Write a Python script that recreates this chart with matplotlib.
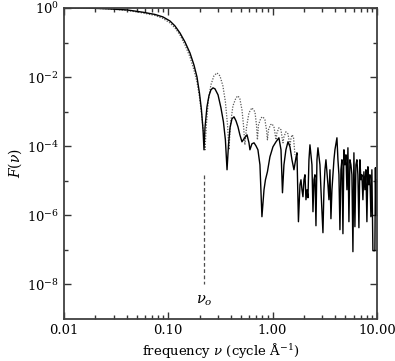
import numpy as np
import matplotlib
matplotlib.use("Agg")
import matplotlib.pyplot as plt
from matplotlib.ticker import NullFormatter

plt.rcParams['font.family'] = ['DejaVu Serif']
plt.rcParams['mathtext.fontset'] = 'dejavuserif'

# solid curve: frequency (cycle/A) and log10 F(nu)
nu_solid = [0.0100, 0.01423, 0.0190, 0.0276, 0.0402, 0.0571, 0.0745, 0.0889, 0.1037, 0.1159,
            0.1294, 0.1445, 0.1614, 0.1762, 0.1884, 0.199, 0.208, 0.2155, 0.2200, 0.2249,
            0.235, 0.2455, 0.2564, 0.2685, 0.2805, 0.300, 0.320, 0.338, 0.353, 0.366,
            0.378, 0.391, 0.408, 0.427, 0.446, 0.466, 0.486, 0.509, 0.532, 0.569,
            0.594, 0.607, 0.634, 0.664, 0.693, 0.724, 0.757, 0.791, 0.828, 0.855,
            0.893, 0.944, 1.009, 1.079, 1.151, 1.205, 1.245, 1.286, 1.343, 1.406,
            1.469, 1.535, 1.604, 1.676, 1.714, 1.771, 1.832, 1.873, 1.915, 1.957,
            2.001, 2.046, 2.091, 2.138, 2.186, 2.234, 2.284, 2.387, 2.441, 2.495,
            2.551, 2.608, 2.666, 2.725, 2.848, 2.912, 3.043, 3.111, 3.180, 3.251,
            3.398, 3.474, 3.551, 3.630, 3.711, 3.879, 3.965, 4.144, 4.237, 4.331,
            4.428, 4.527, 4.628, 4.731, 4.836, 4.944, 5.054, 5.167, 5.282, 5.400,
            5.520, 5.643, 5.769, 5.898, 6.029, 6.164, 6.301, 6.442, 6.585, 6.732,
            6.882, 7.036, 7.193, 7.353, 7.517, 7.685, 7.857, 8.032, 8.211, 8.394,
            8.581, 8.773, 8.968, 9.168, 9.582, 9.69, 9.795, 10.0]
logF_solid = [0, -0.003, -0.009, -0.029, -0.058, -0.124, -0.188, -0.260, -0.376, -0.520,
              -0.723, -0.983, -1.301, -1.647, -1.994, -2.457, -2.948, -3.526, -4.104, -3.468,
              -2.861, -2.543, -2.370, -2.312, -2.341, -2.514, -2.890, -3.295, -3.815, -4.682,
              -3.960, -3.468, -3.208, -3.150, -3.266, -3.439, -3.671, -3.873, -3.786, -3.671,
              -3.902, -4.104, -3.931, -3.902, -3.988, -4.104, -4.538, -6.040, -5.260, -4.971,
              -4.740, -4.306, -4.017, -3.873, -3.757, -4.104, -5.347, -4.538, -4.104, -3.873,
              -4.017, -4.393, -4.682, -4.335, -4.191, -6.185, -5.116, -4.971, -5.260, -5.462,
              -4.971, -4.827, -5.549, -5.260, -5.491, -4.393, -3.960, -4.538, -5.896, -4.971,
              -4.827, -6.301, -4.393, -4.046, -4.538, -5.260, -6.503, -5.260, -4.682, -4.393,
              -5.116, -5.549, -4.682, -6.098, -5.260, -4.393, -4.104, -3.757, -4.393, -4.827,
              -6.416, -4.682, -4.393, -6.532, -4.104, -4.538, -4.249, -5.260, -4.046, -6.185,
              -4.393, -4.538, -4.827, -7.052, -4.191, -6.329, -4.538, -4.393, -4.827, -6.358,
              -4.393, -4.971, -4.827, -5.549, -4.740, -5.260, -4.682, -6.185, -4.595, -5.116,
              -4.827, -6.040, -4.682, -7.023, -7.023, -4.624, -5.983, -4.971]

# dotted curve
nu_dot = [0.0100, 0.0190, 0.0276, 0.0402, 0.0571, 0.0745, 0.0889, 0.1037, 0.1159, 0.1294,
          0.1445, 0.1614, 0.1762, 0.1884, 0.199, 0.208, 0.218, 0.2249, 0.232, 0.2425,
          0.2564, 0.274, 0.293, 0.313, 0.334, 0.353, 0.370, 0.382, 0.394, 0.417,
          0.446, 0.466, 0.486, 0.509, 0.526, 0.543, 0.562, 0.594, 0.634, 0.678,
          0.701, 0.716, 0.733, 0.774, 0.809, 0.845, 0.875, 0.893, 0.914, 0.955,
          0.987, 1.031, 1.054, 1.079, 1.102, 1.151, 1.205, 1.231, 1.259, 1.286,
          1.343, 1.406, 1.437, 1.469, 1.501, 1.535, 1.586, 1.640]
logF_dot = [0, -0.009, -0.029, -0.072, -0.145, -0.217, -0.303, -0.434, -0.578, -0.780,
            -1.069, -1.416, -1.792, -2.139, -2.572, -3.035, -3.613, -4.104, -3.382, -2.659,
            -2.225, -1.965, -1.879, -1.965, -2.254, -2.717, -3.382, -4.104, -3.382, -2.832,
            -2.601, -2.543, -2.630, -2.948, -3.382, -3.960, -3.468, -3.035, -2.890, -3.006,
            -3.382, -3.815, -3.382, -3.179, -3.150, -3.237, -3.526, -3.815, -3.526, -3.382,
            -3.353, -3.439, -3.613, -3.815, -3.613, -3.468, -3.526, -3.728, -3.902, -3.728,
            -3.584, -3.642, -3.815, -3.988, -3.786, -3.671, -3.728, -4.249]

nu0 = 0.22
nu0_span = [1.5e-5, 1e-8]

xticks = [0.01, 0.1, 1.0, 10.0]
xticklabels = ["0.01", "0.10", "1.00", "10.00"]
yticks = [1e0, 1e-2, 1e-4, 1e-6, 1e-8]
yminor = [1e-1, 1e-3, 1e-5, 1e-7]

fig = plt.figure(figsize=(3.95, 3.61), dpi=100)
ax = fig.add_axes([0.162, 0.1163, 0.792, 0.8617])

ax.plot(nu_dot, 10 ** np.array(logF_dot), color='0.35', lw=0.9, linestyle=(0, (1, 1.2)))
ax.plot(nu_solid, 10 ** np.array(logF_solid), color='black', lw=1.0)
ax.plot([nu0, nu0], nu0_span, color='0.3', lw=0.9, linestyle=(0, (3, 2)))
ax.text(nu0, 3.3e-9, r"$\nu_o$", ha='center', va='center', fontsize=10.5)

ax.set_xscale('log')
ax.set_yscale('log')
ax.set_xlim(0.01, 10)
ax.set_ylim(1e-9, 1.0)
ax.set_xticks(xticks)
ax.set_xticklabels(xticklabels)
ax.set_yticks(yticks)
ax.set_yticks(yminor, minor=True)
ax.yaxis.set_minor_formatter(NullFormatter())

ax.tick_params(which='both', direction='in', top=True, right=True, labelsize=9.5, width=1.0, color='0.2')
ax.tick_params(which='major', length=5)
ax.tick_params(which='minor', length=3)
for s in ax.spines.values():
    s.set_linewidth(1.3)
    s.set_color('0.25')

ax.set_xlabel(r"frequency $\nu$ (cycle Å$^{-1}$)", fontsize=9.5, labelpad=3)
ax.set_ylabel(r"$F(\nu)$", fontsize=10, labelpad=2)

fig.savefig("out.png", dpi=100)
